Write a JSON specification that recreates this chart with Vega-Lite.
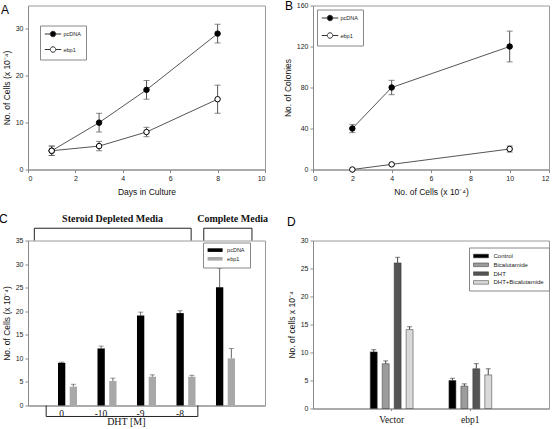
{
  "$schema": "https://vega.github.io/schema/vega-lite/v6.json",
  "padding": {"left": -2, "top": -1.5, "right": 0, "bottom": 0},
  "background": "white",
  "datasets": {
    "growth": [
      {"day": 1, "series": "pcDNA", "value": 4, "lo": 3, "hi": 5},
      {"day": 3, "series": "pcDNA", "value": 10, "lo": 8, "hi": 12},
      {"day": 5, "series": "pcDNA", "value": 17, "lo": 15, "hi": 19},
      {"day": 8, "series": "pcDNA", "value": 29, "lo": 27, "hi": 31},
      {"day": 1, "series": "ebp1", "value": 4, "lo": 3, "hi": 5},
      {"day": 3, "series": "ebp1", "value": 5, "lo": 4, "hi": 6},
      {"day": 5, "series": "ebp1", "value": 8, "lo": 7, "hi": 9},
      {"day": 8, "series": "ebp1", "value": 15, "lo": 12, "hi": 18}
    ],
    "colonies": [
      {"cells": 2, "series": "pcDNA", "value": 40, "lo": 36, "hi": 44},
      {"cells": 4, "series": "pcDNA", "value": 80, "lo": 73, "hi": 87},
      {"cells": 10, "series": "pcDNA", "value": 120, "lo": 105, "hi": 135},
      {"cells": 2, "series": "ebp1", "value": 0, "lo": 0, "hi": 0},
      {"cells": 4, "series": "ebp1", "value": 5, "lo": 4, "hi": 6},
      {"cells": 10, "series": "ebp1", "value": 20, "lo": 17, "hi": 23}
    ],
    "dht": [
      {"group": "0", "series": "pcDNA", "value": 9.05, "hi": 9.2},
      {"group": "-10", "series": "pcDNA", "value": 12.1, "hi": 12.6},
      {"group": "-9", "series": "pcDNA", "value": 19.1, "hi": 19.8},
      {"group": "-8", "series": "pcDNA", "value": 19.6, "hi": 20.1},
      {"group": "Complete", "series": "pcDNA", "value": 25.1, "hi": 29.1},
      {"group": "0", "series": "ebp1", "value": 4.0, "hi": 4.5},
      {"group": "-10", "series": "ebp1", "value": 5.2, "hi": 5.8},
      {"group": "-9", "series": "ebp1", "value": 6.1, "hi": 6.5},
      {"group": "-8", "series": "ebp1", "value": 6.1, "hi": 6.4},
      {"group": "Complete", "series": "ebp1", "value": 10.0, "hi": 12.1}
    ],
    "brackets": [
      {"name": "Steroid Depleted Media", "x1": 0.16, "x2": 4.13, "base": 35, "top": 37.6},
      {"name": "Complete Media", "x1": 4.45, "x2": 5.67, "base": 35, "top": 37.6},
      {"name": "DHT [M]", "x1": 0.46, "x2": 4.3, "base": 0, "top": -2.33}
    ],
    "headings": [
      {"text": "Steroid Depleted Media", "x": 2.14, "y": 39.5},
      {"text": "Complete Media", "x": 5.18, "y": 39.5}
    ],
    "axisnote": [
      {"text": "DHT [M]", "x": 2.49, "y": -3.6}
    ],
    "treat": [
      {"cell": "Vector", "treatment": "Control", "value": 10.1, "hi": 10.5},
      {"cell": "Vector", "treatment": "Bicalutamide", "value": 8.0, "hi": 8.5},
      {"cell": "Vector", "treatment": "DHT", "value": 26.0, "hi": 27.0},
      {"cell": "Vector", "treatment": "DHT+Bicalutamide", "value": 14.1, "hi": 14.6},
      {"cell": "ebp1", "treatment": "Control", "value": 5.0, "hi": 5.4},
      {"cell": "ebp1", "treatment": "Bicalutamide", "value": 4.0, "hi": 4.4},
      {"cell": "ebp1", "treatment": "DHT", "value": 7.1, "hi": 8.0},
      {"cell": "ebp1", "treatment": "DHT+Bicalutamide", "value": 6.0, "hi": 7.1}
    ]
  },
  "config": {
    "font": "Liberation Sans",
    "view": {"stroke": "#9a9a9a", "strokeWidth": 1},
    "axis": {"domainColor": "#8a8a8a", "tickColor": "#8a8a8a", "tickSize": 3, "labelFontSize": 7, "labelColor": "#222", "titleFontSize": 8.5, "titleFontWeight": "normal", "titleColor": "#111", "grid": false, "labelFont": "Liberation Sans", "titleFont": "Liberation Sans", "labelPadding": 2, "titlePadding": 4},
    "title": {"fontSize": 12, "fontWeight": "normal", "anchor": "start", "frame": "group", "font": "Liberation Sans", "color": "#000", "baseline": "alphabetic"},
    "legend": {"orient": "none", "strokeColor": "#888", "fillColor": "white", "labelFont": "Liberation Sans", "labelColor": "#222", "title": null}
  },
  "resolve": {"scale": {"fill": "independent", "xOffset": "independent"}, "legend": {"fill": "independent"}},
  "bounds": "flush",
  "columns": 2,
  "spacing": {"row": 71, "column": 48},
  "concat": [
    {
      "width": 237, "height": 164,
      "title": {"text": "A", "dx": -27, "dy": 3, "offset": -8},
      "data": {"name": "growth"},
      "encoding": {
        "x": {"field": "day", "type": "quantitative", "scale": {"domain": [0, 10], "nice": false}, "axis": {"values": [0, 2, 4, 6, 8, 10], "title": "Days in Culture", "titlePadding": 6}}
      },
      "layer": [
        {"mark": {"type": "line", "color": "#555", "strokeWidth": 1},
         "encoding": {"y": {"field": "value", "type": "quantitative", "scale": {"domain": [0, 35], "nice": false}, "axis": {"values": [0, 5, 10, 15, 20, 25, 30, 35], "title": "No. of Cells (x 10⁻⁴)"}}, "detail": {"field": "series"}}},
        {"mark": {"type": "errorbar", "ticks": {"size": 6}, "color": "#555"},
         "encoding": {"y": {"field": "lo", "type": "quantitative", "scale": {"domain": [0, 35], "nice": false}, "title": "No. of Cells (x 10⁻⁴)"}, "y2": {"field": "hi"}, "detail": {"field": "series"}}},
        {"mark": {"type": "point", "shape": "circle", "size": 30, "stroke": "#000", "strokeWidth": 1, "opacity": 1, "fillOpacity": 1},
         "encoding": {"y": {"field": "value", "type": "quantitative", "scale": {"domain": [0, 35], "nice": false}, "title": "No. of Cells (x 10⁻⁴)"},
           "fill": {"field": "series", "type": "nominal", "scale": {"domain": ["pcDNA", "ebp1"], "range": ["#000", "#fff"]},
             "legend": {"legendX": 12, "legendY": 20, "padding": 5, "symbolType": "M-3,0L-1,0M1,0L3,0M-1,0A1,1,0,1,1,1,0A1,1,0,1,1,-1,0Z", "symbolSize": 30, "symbolStrokeColor": "#333", "symbolStrokeWidth": 1, "symbolOffset": 4.5, "labelOffset": 7, "labelFontSize": 5.5, "rowPadding": 4.5}}}}
      ]
    },
    {
      "width": 236, "height": 164,
      "title": {"text": "B", "dx": -28, "dy": 3, "offset": -8},
      "data": {"name": "colonies"},
      "encoding": {
        "x": {"field": "cells", "type": "quantitative", "scale": {"domain": [0, 12], "nice": false}, "axis": {"values": [0, 2, 4, 6, 8, 10, 12], "title": "No. of Cells (x 10⁻⁴)", "titlePadding": 6}}
      },
      "layer": [
        {"mark": {"type": "line", "color": "#555", "strokeWidth": 1},
         "encoding": {"y": {"field": "value", "type": "quantitative", "scale": {"domain": [0, 160], "nice": false}, "axis": {"values": [0, 20, 40, 60, 80, 100, 120, 140, 160], "title": "No. of  Colonies"}}, "detail": {"field": "series"}}},
        {"mark": {"type": "errorbar", "ticks": {"size": 6}, "color": "#555"},
         "encoding": {"y": {"field": "lo", "type": "quantitative", "scale": {"domain": [0, 160], "nice": false}, "title": "No. of  Colonies"}, "y2": {"field": "hi"}, "detail": {"field": "series"}}},
        {"mark": {"type": "point", "shape": "circle", "size": 30, "stroke": "#000", "strokeWidth": 1, "opacity": 1, "fillOpacity": 1},
         "encoding": {"y": {"field": "value", "type": "quantitative", "scale": {"domain": [0, 160], "nice": false}, "title": "No. of  Colonies"},
           "fill": {"field": "series", "type": "nominal", "scale": {"domain": ["pcDNA", "ebp1"], "range": ["#000", "#fff"]},
             "legend": {"legendX": 4, "legendY": 4, "padding": 5, "symbolType": "M-3,0L-1,0M1,0L3,0M-1,0A1,1,0,1,1,1,0A1,1,0,1,1,-1,0Z", "symbolSize": 30, "symbolStrokeColor": "#333", "symbolStrokeWidth": 1, "symbolOffset": 4.5, "labelOffset": 7, "labelFontSize": 5.5, "rowPadding": 6.5}}}}
      ]
    },
    {
      "width": 237, "height": 165,
      "title": {"text": "C", "dx": -29, "dy": 29, "offset": 17},
      "resolve": {"scale": {"x": "independent"}},
      "layer": [
        {
          "data": {"name": "dht"},
          "encoding": {
            "x": {"field": "group", "type": "nominal", "sort": ["0", "-10", "-9", "-8", "Complete"], "scale": {"paddingInner": 0.518, "paddingOuter": 0.759},
              "axis": {"title": null, "labelExpr": "datum.value == 'Complete' ? '' : datum.value", "labelFont": "Liberation Serif", "labelFontSize": 9.5, "labelAngle": 0, "ticks": false, "labelPadding": 3, "labelOffset": -6, "labelColor": "#111"}},
            "xOffset": {"field": "series", "type": "nominal", "sort": ["pcDNA", "ebp1"], "scale": {"paddingInner": 0.376, "paddingOuter": 0}}
          },
          "layer": [
            {"mark": {"type": "rule", "color": "#666", "strokeWidth": 1},
             "encoding": {"y": {"field": "value", "type": "quantitative", "scale": {"domain": [0, 35], "nice": false}, "axis": {"values": [0, 5, 10, 15, 20, 25, 30, 35], "title": "No. of Cells (x 10⁻⁴)"}}, "y2": {"field": "hi"}}},
            {"mark": {"type": "tick", "orient": "horizontal", "size": 5, "thickness": 1, "color": "#666"},
             "encoding": {"y": {"field": "hi", "type": "quantitative", "scale": {"domain": [0, 35], "nice": false}, "axis": {"values": [0, 5, 10, 15, 20, 25, 30, 35], "title": "No. of Cells (x 10⁻⁴)"}}}},
            {"mark": {"type": "bar"},
             "encoding": {
               "y": {"field": "value", "type": "quantitative", "scale": {"domain": [0, 35], "nice": false}, "axis": {"values": [0, 5, 10, 15, 20, 25, 30, 35], "title": "No. of Cells (x 10⁻⁴)"}},
               "fill": {"field": "series", "type": "nominal", "scale": {"domain": ["pcDNA", "ebp1"], "range": ["#000", "#a8a8a8"]},
                 "legend": {"legendX": 175, "legendY": 2, "padding": 4.6, "symbolType": "M-2.5,-0.6H2.5V0.6H-2.5Z", "symbolSize": 36, "symbolStrokeWidth": 0, "symbolOffset": 4.5, "labelOffset": 9, "labelFontSize": 5.5, "rowPadding": 1.7}}}}
          ]
        },
        {
          "data": {"name": "brackets"},
          "encoding": {
            "x": {"field": "x1", "type": "quantitative", "scale": {"domain": [0, 6], "nice": false, "zero": false}, "axis": null}
          },
          "layer": [
            {"mark": {"type": "rule", "color": "#222", "strokeWidth": 1},
             "encoding": {"x2": {"field": "x2"}, "y": {"field": "top", "type": "quantitative", "scale": {"domain": [0, 35], "nice": false}, "axis": {"values": [0, 5, 10, 15, 20, 25, 30, 35], "title": "No. of Cells (x 10⁻⁴)"}}}},
            {"mark": {"type": "rule", "color": "#222", "strokeWidth": 1},
             "encoding": {"y": {"field": "base", "type": "quantitative", "scale": {"domain": [0, 35], "nice": false}, "axis": {"values": [0, 5, 10, 15, 20, 25, 30, 35], "title": "No. of Cells (x 10⁻⁴)"}}, "y2": {"field": "top"}}},
            {"mark": {"type": "rule", "color": "#222", "strokeWidth": 1},
             "encoding": {"x": {"field": "x2", "type": "quantitative", "scale": {"domain": [0, 6], "nice": false, "zero": false}, "axis": null}, "y": {"field": "base", "type": "quantitative", "scale": {"domain": [0, 35], "nice": false}, "axis": {"values": [0, 5, 10, 15, 20, 25, 30, 35], "title": "No. of Cells (x 10⁻⁴)"}}, "y2": {"field": "top"}}}
          ]
        },
        {
          "data": {"name": "headings"},
          "mark": {"type": "text", "font": "Liberation Serif", "fontWeight": "bold", "fontSize": 10, "baseline": "middle", "color": "#111"},
          "encoding": {
            "x": {"field": "x", "type": "quantitative", "scale": {"domain": [0, 6], "nice": false, "zero": false}, "axis": null},
            "y": {"field": "y", "type": "quantitative", "scale": {"domain": [0, 35], "nice": false}, "axis": {"values": [0, 5, 10, 15, 20, 25, 30, 35], "title": "No. of Cells (x 10⁻⁴)"}},
            "text": {"field": "text"}
          }
        },
        {
          "data": {"name": "axisnote"},
          "mark": {"type": "text", "font": "Liberation Serif", "fontSize": 10, "baseline": "middle", "color": "#111"},
          "encoding": {
            "x": {"field": "x", "type": "quantitative", "scale": {"domain": [0, 6], "nice": false, "zero": false}, "axis": null},
            "y": {"field": "y", "type": "quantitative", "scale": {"domain": [0, 35], "nice": false}, "axis": {"values": [0, 5, 10, 15, 20, 25, 30, 35], "title": "No. of Cells (x 10⁻⁴)"}},
            "text": {"field": "text"}
          }
        }
      ]
    },
    {
      "width": 236, "height": 168,
      "title": {"text": "D", "dx": -26, "dy": 8, "offset": 16},
      "data": {"name": "treat"},
      "encoding": {
        "x": {"field": "cell", "type": "nominal", "sort": ["Vector", "ebp1"], "scale": {"paddingInner": 0.456, "paddingOuter": 0.728},
          "axis": {"title": null, "labelAngle": 0, "labelFont": "Liberation Serif", "labelFontSize": 9.5, "labelColor": "#111", "tickSize": 2, "labelPadding": 4}},
        "xOffset": {"field": "treatment", "type": "nominal", "sort": ["Control", "Bicalutamide", "DHT", "DHT+Bicalutamide"], "scale": {"paddingInner": 0.417, "paddingOuter": 0}}
      },
      "layer": [
        {"mark": {"type": "rule", "color": "#444", "strokeWidth": 1},
         "encoding": {"y": {"field": "value", "type": "quantitative", "scale": {"domain": [0, 30], "nice": false}, "axis": {"values": [0, 5, 10, 15, 20, 25, 30], "title": "No. of cells x 10⁻⁴"}}, "y2": {"field": "hi"}}},
        {"mark": {"type": "tick", "orient": "horizontal", "size": 5, "thickness": 1, "color": "#444"},
         "encoding": {"y": {"field": "hi", "type": "quantitative", "scale": {"domain": [0, 30], "nice": false}, "axis": {"values": [0, 5, 10, 15, 20, 25, 30], "title": "No. of cells x 10⁻⁴"}}}},
        {"mark": {"type": "bar", "stroke": "#333", "strokeWidth": 0.5},
         "encoding": {
           "y": {"field": "value", "type": "quantitative", "scale": {"domain": [0, 30], "nice": false}, "axis": {"values": [0, 5, 10, 15, 20, 25, 30], "title": "No. of cells x 10⁻⁴"}},
           "fill": {"field": "treatment", "type": "nominal", "scale": {"domain": ["Control", "Bicalutamide", "DHT", "DHT+Bicalutamide"], "range": ["#000", "#9c9c9c", "#555", "#d9d9d9"]},
             "legend": {"legendX": 156, "legendY": 7, "padding": 5, "symbolType": "M-2.5,-0.6H2.5V0.6H-2.5Z", "symbolSize": 36, "symbolStrokeColor": "#333", "symbolStrokeWidth": 0.5, "symbolOffset": 3.5, "labelOffset": 9, "labelFontSize": 6, "rowPadding": 1.8}}}}
      ]
    }
  ]
}
